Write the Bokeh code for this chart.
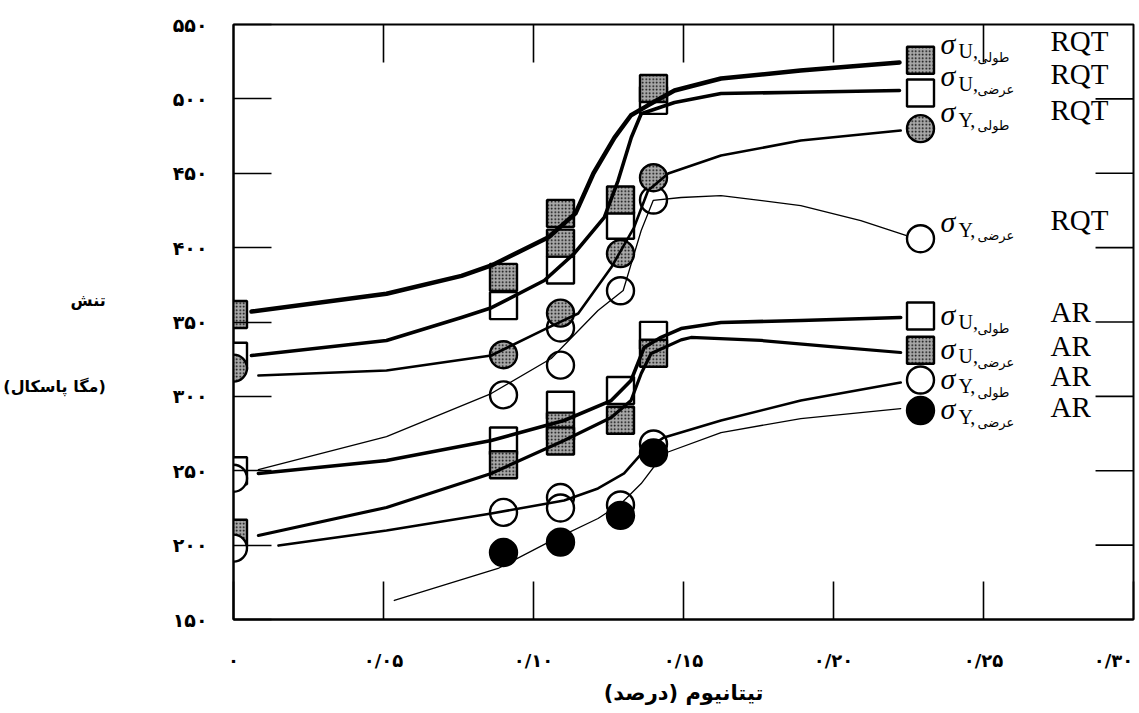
from bokeh.plotting import figure
from bokeh.models import FixedTicker, ColumnDataSource
from bokeh.core.properties import value
from bokeh.embed import file_html
from bokeh.resources import INLINE

# ---------------- data ----------------
x_ticks = [0, 0.05, 0.10, 0.15, 0.20, 0.25, 0.30]
x_tick_labels = ["۰", "۰/۰۵", "۰/۱۰", "۰/۱۵", "۰/۲۰", "۰/۲۵", "۰/۳۰"]
y_ticks = [150, 200, 250, 300, 350, 400, 450, 500, 550]
y_tick_labels = ["۱۵۰", "۲۰۰", "۲۵۰", "۳۰۰", "۳۵۰", "۴۰۰", "۴۵۰", "۵۰۰", "۵۵۰"]

x_title = "(درصد) تیتانیوم"
y_title_1 = "تنش"
y_title_2 = "(مگا پاسکال)"

# measured points (Ti %, MPa)
uL_rqt_x = [0, 0.090, 0.109, 0.109, 0.129, 0.140]
uL_rqt_y = [355, 380, 423, 403, 432, 507]
uT_rqt_x = [0, 0.090, 0.109, 0.129, 0.140]
uT_rqt_y = [327, 361, 385, 415, 499]
yL_rqt_x = [0, 0.090, 0.109, 0.129, 0.140]
yL_rqt_y = [319, 328, 356, 396, 447]
yT_rqt_x = [0, 0.090, 0.109, 0.109, 0.129, 0.140]
yT_rqt_y = [245, 301, 346, 321, 371, 432]
uL_ar_x = [0, 0.090, 0.109, 0.129, 0.140]
uL_ar_y = [250, 270, 294, 304, 341]
uT_ar_x = [0, 0.090, 0.109, 0.109, 0.129, 0.140]
uT_ar_y = [208, 254, 280, 270, 284, 329]
yL_ar_x = [0, 0.090, 0.109, 0.109, 0.129, 0.140]
yL_ar_y = [198, 222, 232, 225, 227, 268]
yT_ar_x = [0.090, 0.109, 0.129, 0.140]
yT_ar_y = [195, 202, 220, 262]

# fitted curves
cA_x = [0.006, 0.051, 0.076, 0.086, 0.105, 0.114, 0.120, 0.127, 0.1325, 0.138, 0.147, 0.1625, 0.189, 0.222]
cA_y = [357, 369, 381, 388, 407, 423, 450, 474, 489, 495.5, 505.6, 513.7, 519, 524.5]
cB_x = [0.006, 0.051, 0.076, 0.086, 0.1036, 0.1136, 0.1236, 0.1282, 0.1326, 0.1359, 0.147, 0.1625, 0.189, 0.222]
cB_y = [327.5, 337.6, 353, 359.6, 377.9, 396.1, 420.3, 445.1, 474, 490, 497.6, 503.6, 504.5, 505.6]
cC_x = [0.0083, 0.051, 0.0859, 0.1042, 0.1149, 0.1259, 0.1335, 0.1382, 0.1449, 0.1625, 0.1891, 0.2224]
cC_y = [314, 317.4, 327.5, 345.6, 355.7, 386.6, 413.5, 438.4, 449.8, 461.9, 472, 478.7]
cD_x = [0.0083, 0.051, 0.0859, 0.1059, 0.1215, 0.1299, 0.1359, 0.1399, 0.1492, 0.1625, 0.1891, 0.2091, 0.2241]
cD_y = [250.8, 273, 301.9, 325.5, 357.7, 371.2, 411.5, 431.7, 433.7, 435, 428.3, 418.2, 408.2]
cE_x = [0.0083, 0.051, 0.0859, 0.1102, 0.1259, 0.1325, 0.1369, 0.1425, 0.1492, 0.1625, 0.1891, 0.2224]
cE_y = [248.2, 256.9, 270.3, 283.8, 297.2, 310.7, 332.9, 339.7, 345.6, 349.7, 351, 353]
cF_x = [0.0083, 0.051, 0.0859, 0.1102, 0.1259, 0.1325, 0.1359, 0.1392, 0.1492, 0.1525, 0.1758, 0.1991, 0.2224]
cF_y = [206.5, 225.3, 248.2, 270.3, 285.8, 297.2, 315.4, 328.8, 338, 339.6, 337.6, 333.5, 329.5]
cG_x = [0.015, 0.051, 0.0859, 0.1102, 0.1215, 0.1302, 0.1369, 0.1435, 0.1625, 0.1891, 0.2224]
cG_y = [199.7, 209.8, 221.3, 230, 238.1, 248.2, 263.6, 272.4, 283.8, 297.2, 309.3]
cH_x = [0.0536, 0.0882, 0.1049, 0.1215, 0.1292, 0.1359, 0.1435, 0.1625, 0.1891, 0.2224]
cH_y = [162.8, 184.3, 201.8, 217.9, 228, 241.4, 261.6, 275.7, 285.1, 291.8]

# legend
legend_x = 0.229
legend_y = [526, 504, 480, 406, 354, 331, 311, 290.5]
legend_sub = ["U,", "U,", "Y,", "Y,", "U,", "U,", "Y,", "Y,"]
legend_word = ["طولی", "عرضی", "طولی", "عرضی", "طولی", "عرضی", "طولی", "عرضی"]
legend_cond = ["RQT", "RQT", "RQT", "RQT", "AR", "AR", "AR", "AR"]
legend_kind = ["shsq", "opsq", "shci", "opci", "opsq", "shsq", "opci", "blci"]

# ---------------- figure ----------------
W, H = 1139, 713
BL, BR, BT, BB = 232, 6, 24, 94
p = figure(width=W, height=H, x_range=(0, 0.30), y_range=(150, 550),
           output_backend="svg", toolbar_location=None,
           min_border_left=BL, min_border_right=BR, min_border_top=BT, min_border_bottom=BB)
p.xgrid.visible = False
p.ygrid.visible = False
p.outline_line_color = "black"
p.outline_line_width = 2
p.background_fill_color = "white"
p.border_fill_color = "white"

TICK = 38

def style_axis(ax, ticks):
    ax.ticker = FixedTicker(ticks=ticks)
    ax.axis_line_color = "black"
    ax.axis_line_width = 2
    ax.major_tick_in = TICK
    ax.major_tick_out = 0
    ax.major_tick_line_width = 1.6
    ax.major_tick_line_color = "black"
    ax.minor_tick_line_color = None
    ax.major_label_text_color = "black"
    ax.major_label_text_font = "DejaVu Sans"
    ax.major_label_text_font_style = "bold"

nb = "\u00a0"

xa = p.xaxis[0]
style_axis(xa, x_ticks)
xl = list(x_tick_labels)
xl[-1] = xl[-1] + nb          # keep last label inside the canvas
xa.major_label_overrides = {t: l for t, l in zip(x_ticks, xl)}
xa.major_label_text_font_size = "18px"
xa.major_label_standoff = 30
xa.axis_label = x_title
xa.axis_label_text_font = "DejaVu Sans"
xa.axis_label_text_font_style = "bold"
xa.axis_label_text_font_size = "21px"
xa.axis_label_text_color = "black"
xa.axis_label_standoff = 7

ya = p.yaxis[0]
style_axis(ya, y_ticks)
ya.major_label_overrides = {t: l for t, l in zip(y_ticks, y_tick_labels)}
ya.major_label_text_font_size = "19px"
ya.major_label_standoff = 26
ya.axis_label = "\n".join([nb, nb, nb, nb * 9 + y_title_1, nb, nb, nb, y_title_2, nb])
ya.axis_label_orientation = "horizontal"
ya.axis_label_text_font = "DejaVu Sans"
ya.axis_label_text_font_style = "bold"
ya.axis_label_text_font_size = "16px"
ya.axis_label_text_line_height = 1.14
ya.axis_label_text_color = "black"
ya.axis_label_text_align = "center"
ya.axis_label_standoff = 64

# inward ticks on top and right edges (from tick lists)
ty = (550 - 150) / (H - BT - BB) * TICK
tx = 0.30 / (W - BL - BR) * TICK
p.segment(x0=x_ticks[1:-1], y0=[y_ticks[-1]] * 5, x1=x_ticks[1:-1], y1=[y_ticks[-1] - ty] * 5,
          line_color="black", line_width=1.6)
p.segment(x0=[x_ticks[-1]] * 7, y0=y_ticks[1:-1], x1=[x_ticks[-1] - tx] * 7, y1=y_ticks[1:-1],
          line_color="black", line_width=1.6)

# marker styles
MS = 27
shade = dict(fill_color="#a8a8a8", hatch_pattern="dot", hatch_scale=3.5,
             hatch_weight=1.4, hatch_color="black", line_color="black", line_width=2.4)
openst = dict(fill_color="white", line_color="black", line_width=2.4)
black = dict(fill_color="black", line_color="black", line_width=2.4)

def sq(x, y, st):
    p.scatter(x, y, marker="square", size=MS, **st)

def ci(x, y, st):
    p.scatter(x, y, marker="circle", size=MS, **st)

sq(uT_rqt_x, uT_rqt_y, openst)
sq(uL_rqt_x, uL_rqt_y, shade)
sq(uL_ar_x, uL_ar_y, openst)
sq(uT_ar_x, uT_ar_y, shade)
ci(yT_rqt_x, yT_rqt_y, openst)
ci(yL_rqt_x, yL_rqt_y, shade)
ci(yL_ar_x, yL_ar_y, openst)
ci(yT_ar_x, yT_ar_y, black)

# curves
lw = [4.5, 3.6, 2.6, 1.3, 3.6, 3.2, 2.6, 1.3]
for (cx, cy), w in zip([(cA_x, cA_y), (cB_x, cB_y), (cC_x, cC_y), (cD_x, cD_y),
                        (cE_x, cE_y), (cF_x, cF_y), (cG_x, cG_y), (cH_x, cH_y)], lw):
    p.line(cx, cy, line_color="black", line_width=w, line_join="round", line_cap="round")

# legend markers
styles = {"shsq": ("square", shade), "opsq": ("square", openst),
          "shci": ("circle", shade), "opci": ("circle", openst), "blci": ("circle", black)}
for ly, k in zip(legend_y, legend_kind):
    mk, st = styles[k]
    p.scatter([legend_x], [ly], marker=mk, size=MS, **st)

# legend text
dy = [-17 if c == "RQT" else -2 for c in legend_cond]
src = ColumnDataSource(dict(x=[legend_x] * 8, y=legend_y, sub=legend_sub, word=legend_word,
                            cond=legend_cond, sig=["σ"] * 8, dy=dy,
                            dy_sub=[d + 8 for d in dy], dy_word=[d + 14 for d in dy],
                            dy_cond=[d - 2 for d in dy]))
p.text(x="x", y="y", text="sig", source=src, x_offset=20, y_offset="dy",
       text_font=value("Liberation Serif"), text_font_style="italic",
       text_font_size="30px", text_baseline="middle", text_align="left", text_color="black")
p.text(x="x", y="y", text="sub", source=src, x_offset=38, y_offset="dy_sub",
       text_font=value("Liberation Serif"), text_font_size="20px",
       text_baseline="middle", text_align="left", text_color="black")
p.text(x="x", y="y", text="word", source=src, x_offset=57, y_offset="dy_word",
       text_font=value("DejaVu Sans"), text_font_size="13px",
       text_baseline="middle", text_align="left", text_color="black")
p.text(x="x", y="y", text="cond", source=src, x_offset=130, y_offset="dy_cond",
       text_font=value("Liberation Serif"), text_font_size="29px",
       text_baseline="middle", text_align="left", text_color="black")

open("out.html", "w").write(file_html(p, INLINE))
